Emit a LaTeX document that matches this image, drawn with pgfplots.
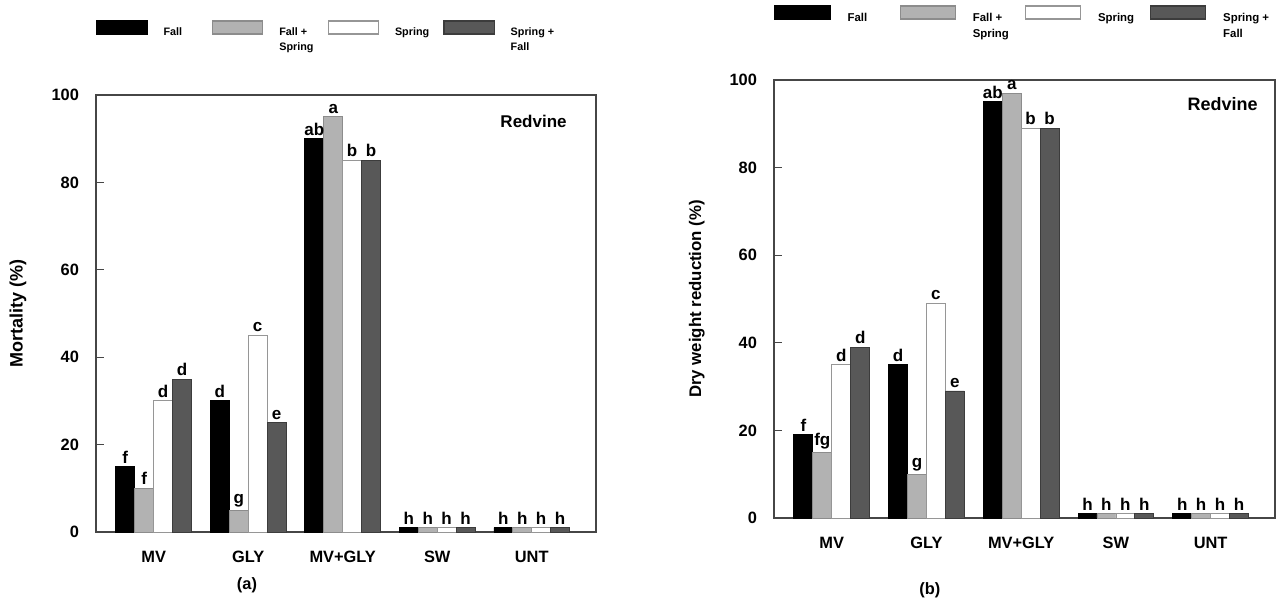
\documentclass[border=0pt]{standalone}
\usepackage{fontspec}
\setmainfont{Liberation Sans}
\usepackage{pgfplots}
\pgfplotsset{compat=1.18}

\definecolor{fsfill}{RGB}{178,178,178}
\definecolor{fsdraw}{RGB}{140,140,140}
\definecolor{spdraw}{RGB}{150,150,150}
\definecolor{sffill}{RGB}{88,88,88}
\definecolor{sfdraw}{RGB}{60,60,60}
\definecolor{frame}{RGB}{70,70,70}

% legend text: fixed width cell, lines broken by hand
\newcommand{\legtxt}[2]{\makebox[#1][l]{\begin{tabular}[t]{@{}l@{}}#2\end{tabular}}}

\pgfplotsset{
  legbox/.style={legend image code/.code={\draw[##1, line width=0.6pt] (0pt,-1pt) rectangle (#1,5.5pt);}},
  redvine/.style={
    scale only axis, clip=false,
    ybar, bar width=0.2,
    ymin=0, ymax=100, xmin=0.39, xmax=5.68,
    xtick={1,2,3,4,5},
    xticklabels={MV,GLY,MV+GLY,SW,UNT},
    xtick style={draw=none},
    ytick={0,20,40,60,80,100},
    ytick pos=left, tick align=inside, major tick length=4pt,
    ytick style={line width=0.6pt, color=frame},
    axis line style={line width=0.6pt, color=frame},
    ticklabel style={font=\fontsize{8.2}{9}\selectfont\bfseries},
    /pgf/number format/assume math mode=true,
    yticklabel style={xshift=-5pt},
    xticklabel style={yshift=-6pt},
    label style={font=\fontsize{9}{10}\selectfont\bfseries},
    nodes near coords, point meta=explicit symbolic,
    every node near coord/.append style={font=\fontsize{8.5}{9}\selectfont\bfseries, inner sep=1.5pt, color=black},
    legend columns=4,
    legend cell align=left,
    legend style={draw=none, fill=none, inner sep=0pt, anchor=north west, at={(0,1)},
      /tikz/every even column/.append style={column sep=0pt}},
  }
}

\begin{document}
\begin{tikzpicture}

% ---------- (a) Mortality ----------
\begin{axis}[redvine,
  at={(48pt,36.5pt)}, anchor=south west,
  width=250pt, height=218.5pt,
  ylabel={Mortality (\%)},
  ylabel style={at={(axis description cs:-0.156,0.5)}, anchor=center},
  legend style={yshift=37.5pt, font=\fontsize{5.4}{7.5}\selectfont\bfseries,
    /tikz/every odd column/.append style={column sep=6pt}},
]
\addplot[fill=black, draw=black, bar shift=-0.3, legbox=25pt]
  coordinates {(1,15) [f] (2,30) [d] (3,90) [ab] (4,1) [h] (5,1) [h]};
\addlegendentry{\legtxt{22.25pt}{Fall}}
\addplot[fill=fsfill, draw=fsdraw, bar shift=-0.1, legbox=25pt]
  coordinates {(1,10) [f] (2,5) [g] (3,95) [a] (4,1) [h] (5,1) [h]};
\addlegendentry{\legtxt{22.25pt}{Fall +\\Spring}}
\addplot[fill=white, draw=spdraw, bar shift=0.1, legbox=25pt]
  coordinates {(1,30) [d] (2,45) [c] (3,85) [b] (4,1) [h] (5,1) [h]};
\addlegendentry{\legtxt{22.25pt}{Spring}}
\addplot[fill=sffill, draw=sfdraw, bar shift=0.3, legbox=25pt]
  coordinates {(1,35) [d] (2,25) [e] (3,85) [b] (4,1) [h] (5,1) [h]};
\addlegendentry{\legtxt{22.25pt}{Spring +\\Fall}}
\node[anchor=north east, inner sep=0pt, font=\fontsize{8.5}{9}\selectfont\bfseries]
  at (rel axis cs:1,1) [xshift=-14.5pt, yshift=-10pt] {Redvine};
\node[font=\fontsize{8.2}{9}\selectfont\bfseries] at (rel axis cs:0.302,-0.121) {(a)};
\end{axis}

% ---------- (b) Dry weight reduction ----------
\begin{axis}[redvine,
  at={(387pt,43.5pt)}, anchor=south west,
  width=250.5pt, height=219pt,
  ylabel={Dry weight reduction (\%)},
  ylabel style={at={(axis description cs:-0.154,0.5)}, anchor=center, font=\fontsize{8.4}{10}\selectfont\bfseries},
  legend style={yshift=37.5pt, font=\fontsize{5.7}{8}\selectfont\bfseries,
    /tikz/every odd column/.append style={column sep=6.5pt}},
]
\addplot[fill=black, draw=black, bar shift=-0.3, legbox=27.5pt]
  coordinates {(1,19) [f] (2,35) [d] (3,95) [ab] (4,1) [h] (5,1) [h]};
\addlegendentry{\legtxt{24pt}{Fall}}
\addplot[fill=fsfill, draw=fsdraw, bar shift=-0.1, legbox=27.5pt]
  coordinates {(1,15) [fg] (2,10) [g] (3,97) [a] (4,1) [h] (5,1) [h]};
\addlegendentry{\legtxt{24pt}{Fall +\\Spring}}
\addplot[fill=white, draw=spdraw, bar shift=0.1, legbox=27.5pt]
  coordinates {(1,35) [d] (2,49) [c] (3,89) [b] (4,1) [h] (5,1) [h]};
\addlegendentry{\legtxt{24pt}{Spring}}
\addplot[fill=sffill, draw=sfdraw, bar shift=0.3, legbox=27.5pt]
  coordinates {(1,39) [d] (2,29) [e] (3,89) [b] (4,1) [h] (5,1) [h]};
\addlegendentry{\legtxt{24pt}{Spring +\\Fall}}
\node[anchor=north east, inner sep=0pt, font=\fontsize{9}{10}\selectfont\bfseries]
  at (rel axis cs:1,1) [xshift=-8.5pt, yshift=-8.5pt] {Redvine};
\node[font=\fontsize{8.2}{9}\selectfont\bfseries] at (rel axis cs:0.311,-0.164) {(b)};
\end{axis}

\pgfresetboundingbox
\path (0pt,0pt) rectangle (639.5pt,302.5pt);
\end{tikzpicture}
\end{document}
